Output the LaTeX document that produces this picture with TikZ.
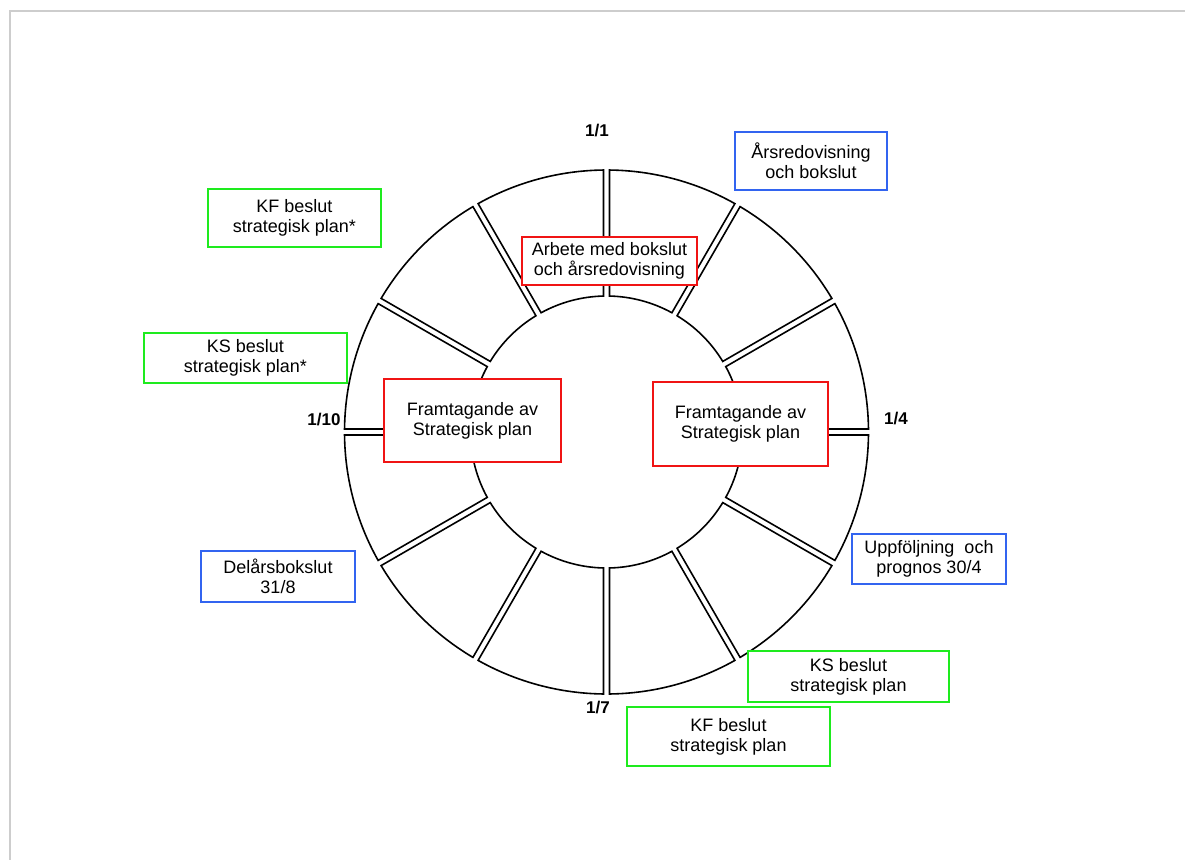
\documentclass[tikz,border=0pt]{standalone}
\usepackage{fontspec}
\setmainfont{Liberation Sans}
\definecolor{boxgreen}{RGB}{30,235,30}
\definecolor{boxblue}{RGB}{50,100,240}
\definecolor{boxred}{RGB}{240,20,20}
\definecolor{framegray}{RGB}{205,205,205}
\tikzset{
  lbl/.style={font=\fontsize{17}{19}\selectfont\bfseries, inner sep=0pt},
  box/.style={draw, line width=2.4pt, fill=white, align=center, inner sep=0pt,
              font=\fontsize{18}{19.8}\selectfont},
  gbox/.style={box, draw=boxgreen},
  bbox/.style={box, draw=boxblue},
  rbox/.style={box, draw=boxred},
  sector/.style={draw=black, line width=1.6pt},
  frame/.style={draw=framegray, line width=2pt}
}
\begin{document}
\begin{tikzpicture}[x=1pt, y=-1pt]
\useasboundingbox (0,0) rectangle (1185,860);
\draw[frame] (1185,11) -- (10,11) -- (10,860);
% ring of twelve segments
\begin{scope}[shift={(606.5,432)}]
\foreach \i in {0,...,11}{
  \pgfmathsetmacro\ta{30*\i+0.656}
  \pgfmathsetmacro\tb{30*\i+30-0.656}
  \pgfmathsetmacro\tc{30*\i+30-1.264}
  \pgfmathsetmacro\td{30*\i+1.264}
  \draw[sector] (\ta:262pt) arc[start angle=\ta, end angle=\tb, radius=262pt]
     -- (\tc:136pt) arc[start angle=\tc, end angle=\td, radius=136pt] -- cycle;
}
\end{scope}
% date labels
\node[lbl] (d11) at (597,131) {1/1};
\node[lbl] (d14) at (896,419) {1/4};
\node[lbl] (d17) at (598,707) {1/7};
\node[lbl] (d110) at (324,420) {1/10};
% boxes
\node[bbox, minimum width=152pt, minimum height=58pt] (arsred) at (811,161) {Årsredovisning\\och bokslut};
\node[gbox, minimum width=173pt, minimum height=58pt] (kfstar) at (294.5,218) {KF beslut\\strategisk plan*};
\node[rbox, minimum width=175pt, minimum height=48pt] (arbete) at (609.5,261) {Arbete med bokslut\\och årsredovisning};
\node[gbox, minimum width=203pt, minimum height=50pt] (ksstar) at (245.5,358) {KS beslut\\strategisk plan*};
\node[rbox, minimum width=177pt, minimum height=83pt] (framl) at (472.5,420.5) {Framtagande av\\Strategisk plan};
\node[rbox, minimum width=175pt, minimum height=84pt] (framr) at (740.5,424) {Framtagande av\\Strategisk plan};
\node[bbox, minimum width=154pt, minimum height=50pt] (uppf) at (929,559) {Uppföljning~ och\\prognos 30/4};
\node[bbox, minimum width=154pt, minimum height=51pt] (delars) at (278,576.5) {Delårsbokslut\\31/8};
\node[gbox, minimum width=201pt, minimum height=51pt] (ks) at (848.5,676.5) {KS beslut\\strategisk plan};
\node[gbox, minimum width=203pt, minimum height=59pt] (kf) at (728.5,736.5) {KF beslut\\strategisk plan};
\end{tikzpicture}
\end{document}
